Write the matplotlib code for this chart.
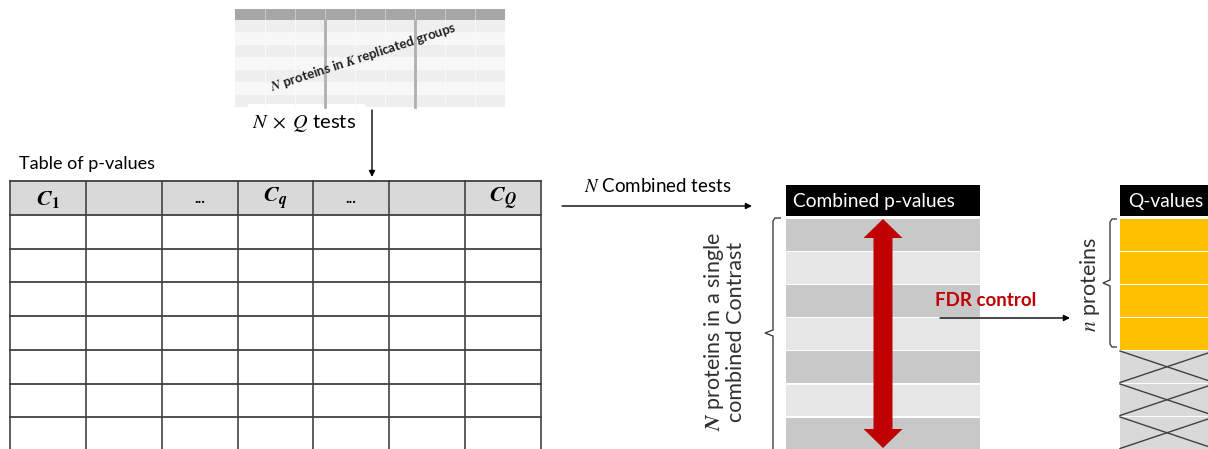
import numpy as np
import matplotlib.pyplot as plt
from matplotlib.patches import Rectangle, Polygon
from matplotlib.path import Path
from matplotlib.patches import PathPatch

plt.rcParams['font.family'] = ['Lato', 'DejaVu Sans']
plt.rcParams['mathtext.fontset'] = 'stix'

# diagram content
top_cols = 9
top_rows = 7
top_label = r'$\mathbfit{N}$ proteins in $\mathbfit{K}$ replicated groups'
test_label = r'$N\;\times\;Q$ tests'
table_title = 'Table of p-values'
header_labels = [r'$\mathbfit{C}_{\mathbf{1}}$', '', '...', r'$\mathbfit{C}_{\mathbfit{q}}$', '...', '',
                 r'$\mathbfit{C}_{\mathbfit{Q}}$']
n_body_rows = 7
combined_label = r'$N$ Combined tests'
pval_header = 'Combined p-values'
n_pval_rows = 7
pval_colors = ['#c8c8c8', '#e6e6e6']
brace_lines = [r'$\mathbfit{N}$ proteins in a single', 'combined Contrast']
fdr_label = 'FDR control'
q_header = 'Q-values'
n_significant = 4
n_rejected = 3
n_label = r'$n$ proteins'

W, H = 1208, 449
fig = plt.figure(figsize=(W / 100, H / 100), dpi=100)
ax = fig.add_axes([0, 0, 1, 1])
ax.set_xlim(0, W)
ax.set_ylim(H, 0)
ax.axis('off')


def rect(x0, y0, x1, y1, **kw):
    ax.add_patch(Rectangle((x0, y0), x1 - x0, y1 - y0, **kw))


def arrow(x0, y0, x1, y1):
    ax.annotate('', xy=(x1, y1), xytext=(x0, y0),
                arrowprops=dict(arrowstyle='-|>', color='black', lw=1, mutation_scale=9,
                                shrinkA=0, shrinkB=0))


def brace(xr, yt, yb, ym, d):
    pts = [(xr, yt), (xr - d + 2, yt), (xr - d, yt + 3), (xr - d, ym - 3), (xr - 2 * d, ym),
           (xr - d, ym + 3), (xr - d, yb - 3), (xr - d + 2, yb), (xr, yb)]
    ax.add_patch(PathPatch(Path(pts), fill=False, ec='#404040', lw=1))


# small input table at the top
tx = np.linspace(235, 505, top_cols + 1)
ty = np.linspace(20, 107, top_rows + 1)
rect(235, 9, 505, 20, fc='#a6a6a6', ec='none')
for i in range(top_rows):
    rect(235, ty[i], 505, ty[i + 1], fc=['#eeeeee', '#f7f7f7'][i % 2], ec='none')
for x in tx[1:-1]:
    ax.plot([x, x], [9, 20], color='#c8c8c8', lw=0.8)
    ax.plot([x, x], [20, 107], color='#f9f9f9', lw=0.8)
for x in [325, 415]:
    ax.plot([x, x], [20, 107], color='#b0b0b0', lw=2)
ax.text(363, 57, top_label, rotation=18, ha='center', va='center', fontsize=9.5,
        fontweight='bold', color='#202020')
rect(248, 104, 365, 142, fc='white', ec='none')
ax.text(304, 123, test_label, ha='center', va='center', fontsize=14.5)
arrow(372, 110, 372, 177)

# table of p-values
ax.text(19, 164, table_title, ha='left', va='center', fontsize=13)
cx = [10, 86, 162, 238, 313, 389, 465, 541]
row_h = 33.7
ry = [181, 215] + [215 + row_h * k for k in range(1, n_body_rows + 1)]
rect(cx[0], ry[0], cx[-1], ry[1], fc='#d9d9d9', ec='none')
for x in cx:
    ax.plot([x, x], [ry[0], H + 5], color='#505050', lw=1.3)
for y in ry:
    if y < H:
        ax.plot([cx[0], cx[-1]], [y, y], color='#404040', lw=1.3)
for i, lab in enumerate(header_labels):
    if lab:
        ax.text((cx[i] + cx[i + 1]) / 2, 199, lab, ha='center', va='center',
                fontsize=16 if lab != '...' else 11, fontweight='bold')

# combination step
ax.text(658, 186, combined_label, ha='center', va='center', fontsize=13.5)
arrow(562, 206, 752, 206)

rect(786, 185, 980, 216, fc='black', ec='none')
ax.text(793, 201, pval_header, ha='left', va='center', fontsize=13.8, color='white')
for k in range(n_pval_rows):
    y0 = 219 + 33.1 * k
    rect(786, y0, 980, y0 + 31.5, fc=pval_colors[k % 2], ec='none')

# red double-headed arrow over the combined p-values
acx, shaft, head = 883, 9.5, 19.5
ax.add_patch(Polygon([(acx, 219), (acx + head, 238), (acx + shaft, 238), (acx + shaft, 429),
                      (acx + head, 429), (acx, 448), (acx - head, 429), (acx - shaft, 429),
                      (acx - shaft, 238), (acx - head, 238)], closed=True, fc='#c00000', ec='none'))

brace(781, 218, 462, 333, 8)
ax.text(714, 332, brace_lines[0], rotation=90, ha='center', va='center', fontsize=15.5,
        color='#303030')
ax.text(736, 332, brace_lines[1], rotation=90, ha='center', va='center', fontsize=15.5,
        color='#303030')

# FDR control
ax.text(986, 301, fdr_label, ha='center', va='center', fontsize=13.5, fontweight='bold',
        color='#c00000')
arrow(940, 318, 1070, 318)

# Q-values
qx0, qx1 = 1120, 1214
rect(qx0, 185, qx1, 216, fc='black', ec='none')
ax.text(1128, 201, q_header, ha='left', va='center', fontsize=13.8, color='white')
for k in range(n_significant + n_rejected):
    y0 = 219 + 33 * k
    y1 = y0 + 31.5
    if k < n_significant:
        rect(qx0, y0, qx1, y1, fc='#ffc000', ec='none')
    else:
        rect(qx0, y0, qx1, y1, fc='#d9d9d9', ec='none')
        ax.plot([qx0, qx1], [y0, y1], color='#404040', lw=1)
        ax.plot([qx0, qx1], [y1, y0], color='#404040', lw=1)

brace(1117, 219, 347, 283, 7)
ax.text(1090, 284, n_label, rotation=90, ha='center', va='center', fontsize=15.5,
        color='#303030')

fig.savefig('out.png', dpi=100, facecolor='white')
